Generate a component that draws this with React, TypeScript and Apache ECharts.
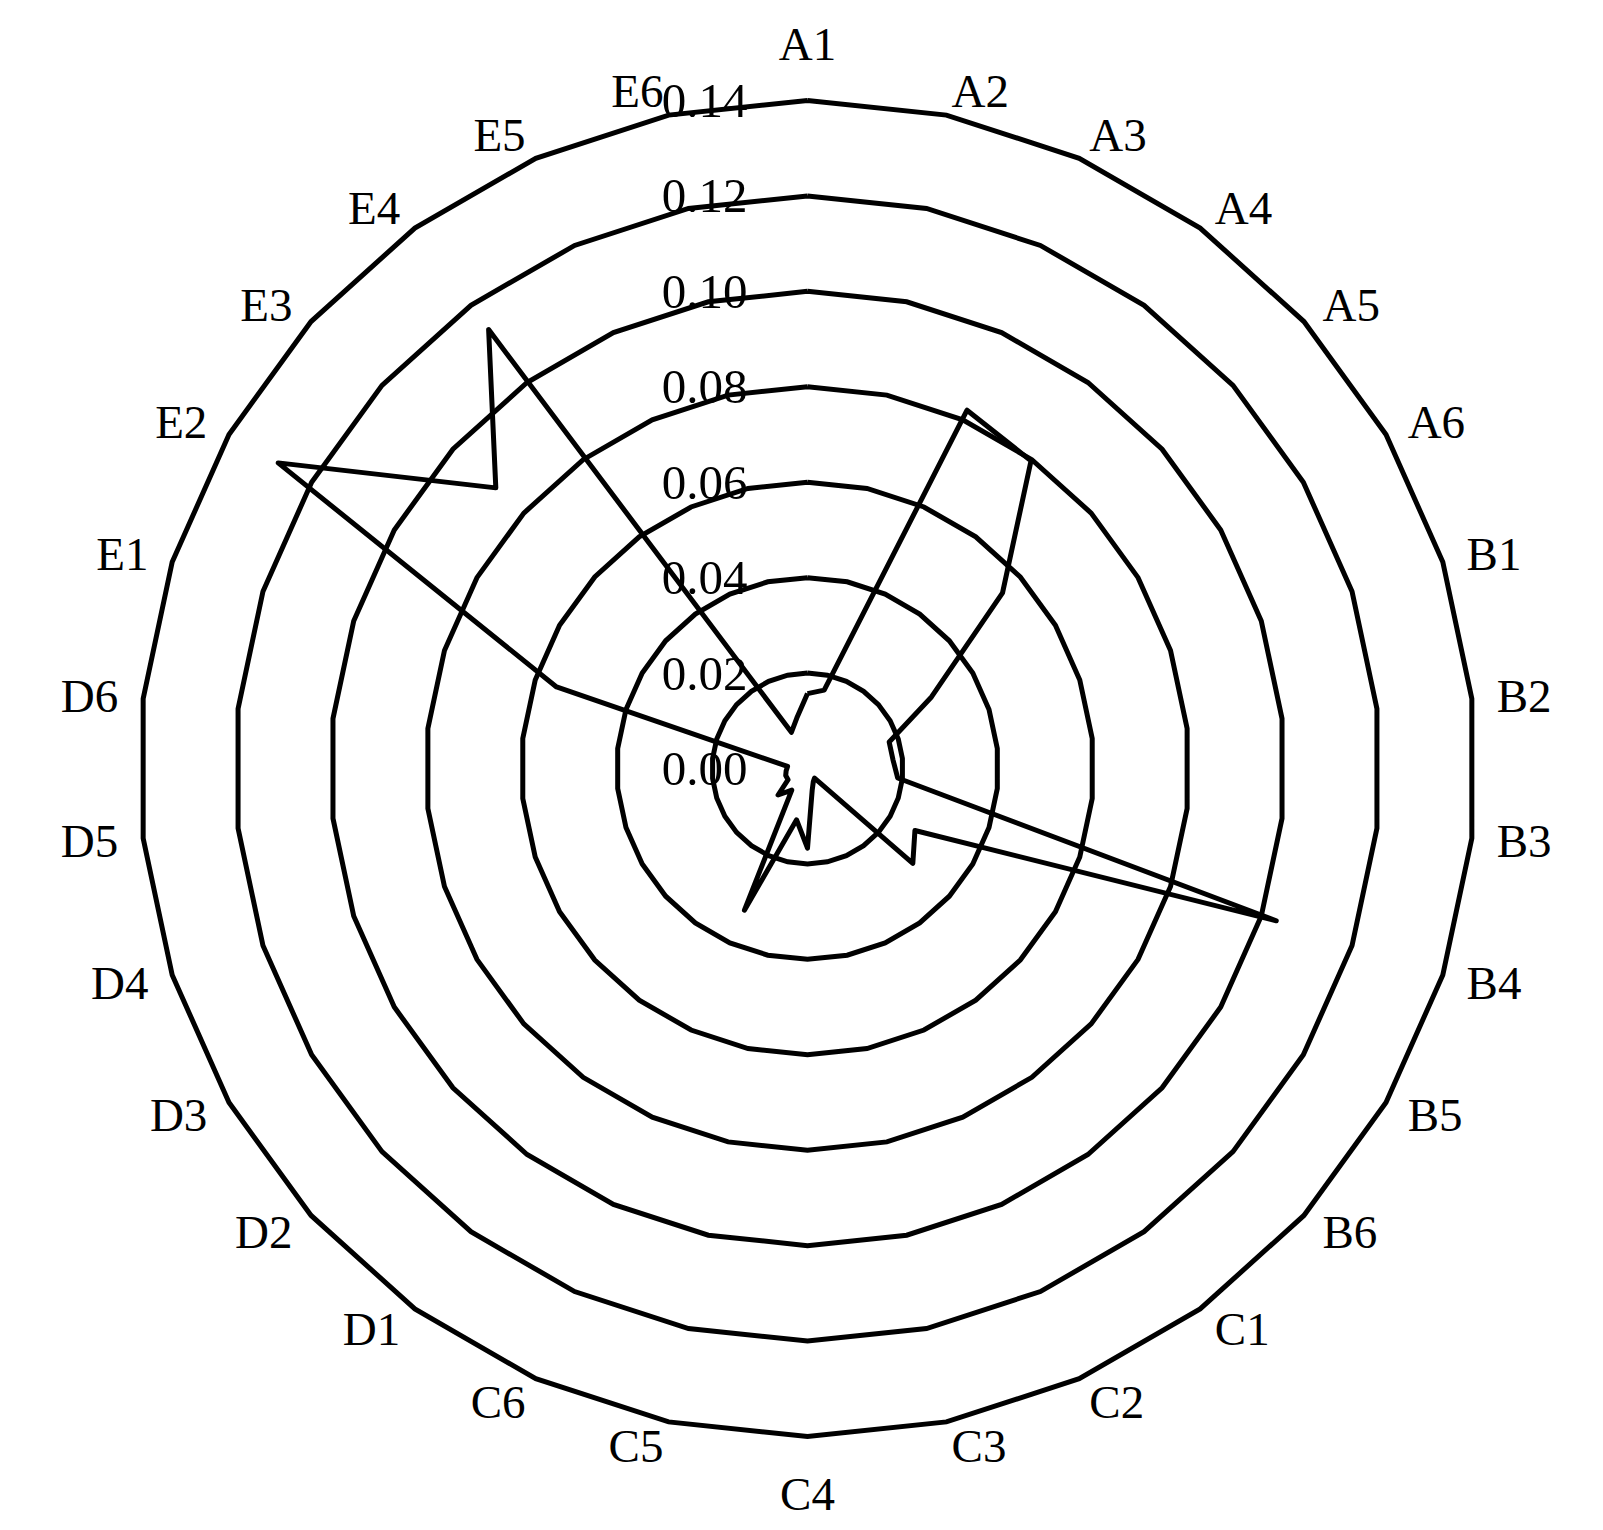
import React, { useEffect, useRef } from "react";
import * as echarts from "echarts";

// Indicator names, listed clockwise from the top
const groupA = ["A1", "A2", "A3", "A4", "A5", "A6"];
const groupB = ["B1", "B2", "B3", "B4", "B5", "B6"];
const groupC = ["C1", "C2", "C3", "C4", "C5", "C6"];
const groupD = ["D1", "D2", "D3", "D4", "D5", "D6"];
const groupE = ["E1", "E2", "E3", "E4", "E5", "E6"];

// Values
const valuesA = [0.0157, 0.0168, 0.0822, 0.0797, 0.055, 0.030];
const valuesB = [0.018, 0.018, 0.019, 0.1033, 0.026, 0.0297];
const valuesC = [0.0025, 0.003, 0.0047, 0.0167, 0.011, 0.0325];
const valuesD = [0.0056, 0.0083, 0.0047, 0.0048, 0.0045, 0.0042];
const valuesE = [0.0553, 0.1281, 0.0879, 0.1137, 0.0083, 0.0108];

const axisMin = 0;
const axisMax = 0.14;
const ringCount = 7;

export default function App() {
  const ref = useRef<HTMLDivElement>(null);

  useEffect(() => {
    if (!ref.current) return;
    const chart = echarts.init(ref.current, undefined, { renderer: "svg" });

    const names = [...groupA, ...groupB, ...groupC, ...groupD, ...groupE];
    const values = [...valuesA, ...valuesB, ...valuesC, ...valuesD, ...valuesE];
    // ECharts places indicators counter-clockwise; reorder so the picture reads clockwise
    const order = [0];
    for (let i = names.length - 1; i >= 1; i--) order.push(i);

    const font = "'Liberation Serif', 'Times New Roman', serif";

    const indicator = order.map((i, k) => {
      const item: any = { name: names[i], min: axisMin, max: axisMax };
      if (k === 0) {
        item.axisLabel = {
          show: true,
          color: "#000",
          fontSize: 49,
          fontFamily: font,
          margin: 60,
          formatter: (v: number) => v.toFixed(2),
        };
      }
      return item;
    });

    chart.setOption({
      animation: false,
      backgroundColor: "#fff",
      radar: {
        center: [807.5, 768.5],
        radius: 668,
        shape: "polygon",
        splitNumber: ringCount,
        nameGap: 25,
        axisName: {
          color: "#000",
          fontSize: 47,
          lineHeight: 64,
          fontFamily: font,
        },
        axisLine: { show: false },
        axisTick: { show: false },
        axisLabel: { show: false },
        splitArea: { show: false },
        splitLine: { lineStyle: { color: "#000", width: 5 } },
        indicator,
      },
      series: [
        {
          type: "radar",
          symbol: "none",
          lineStyle: { color: "#000", width: 5 },
          itemStyle: { color: "#000" },
          data: [{ value: order.map((i) => values[i]) }],
        },
      ],
    });

    return () => chart.dispose();
  }, []);

  return (
    <div
      ref={ref}
      style={{ position: "absolute", left: 0, top: 0, width: 1603, height: 1530, background: "#fff" }}
    />
  );
}
